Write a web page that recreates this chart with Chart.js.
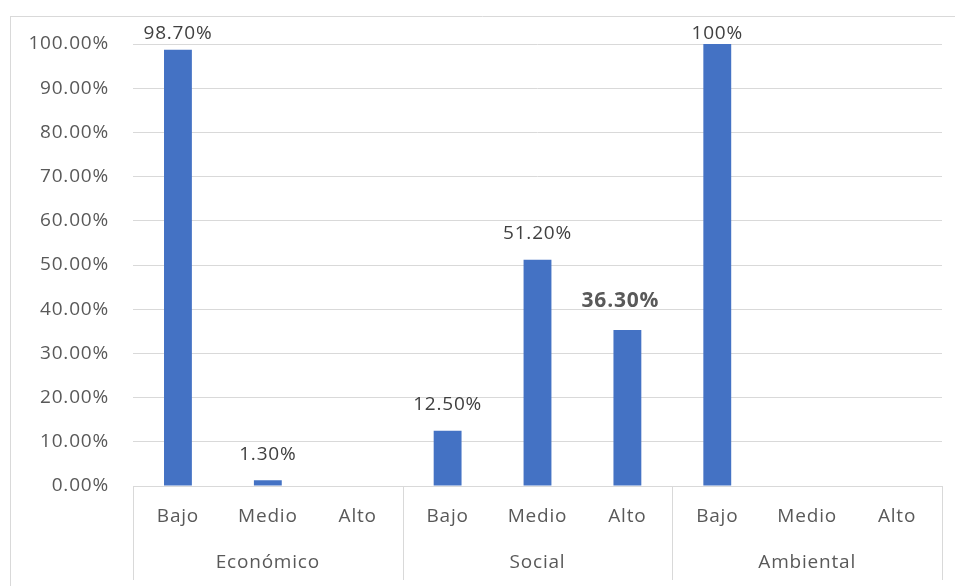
<!DOCTYPE html>
<html>
<head>
<meta charset="utf-8">
<script src="https://cdn.jsdelivr.net/npm/chart.js@4/dist/chart.umd.min.js"></script>
<style>
html,body{margin:0;padding:0;background:#fff;}
#wrap{width:955px;height:586px;position:relative;}
</style>
</head>
<body>
<div id="wrap"><canvas id="c" width="955" height="586"></canvas></div>
<script>
// ---- data ----
const categories = ['Bajo','Medio','Alto','Bajo','Medio','Alto','Bajo','Medio','Alto'];
const groups = ['Económico','Social','Ambiental'];
const values = [98.7, 1.3, null, 12.5, 51.2, 35.3, 100, null, null];
const valueLabels = ['98.70%','1.30%','','12.50%','51.20%','36.30%','100%','',''];
const yTickValues = [0,10,20,30,40,50,60,70,80,90,100];

const FONT = '"Open Sans", "Noto Sans", sans-serif';
const SPACING = '0.8px';

const spacingPlugin = {
  id: 'spacing',
  beforeLayout(chart){ chart.ctx.letterSpacing = SPACING; },
  beforeDraw(chart){ chart.ctx.letterSpacing = SPACING; }
};

const framePlugin = {
  id: 'frame',
  beforeDraw(chart){
    const ctx = chart.ctx;
    ctx.save();
    ctx.strokeStyle = '#d9d9d9';
    ctx.lineWidth = 1;
    ctx.beginPath();
    ctx.moveTo(10, 16.5); ctx.lineTo(955, 16.5);
    ctx.moveTo(10.5, 16); ctx.lineTo(10.5, 586);
    ctx.stroke();
    ctx.restore();
  }
};

const groupAxisPlugin = {
  id: 'groupAxis',
  afterDraw(chart){
    const ctx = chart.ctx, xs = chart.scales.x, area = chart.chartArea;
    const step = xs.getPixelForValue(1) - xs.getPixelForValue(0);
    ctx.save();
    ctx.letterSpacing = SPACING;
    ctx.strokeStyle = '#d9d9d9';
    ctx.lineWidth = 1;
    ctx.beginPath();
    for (let g = 0; g <= groups.length; g++) {
      const x = Math.round(xs.getPixelForValue(g*3) - step/2) + 0.5;
      ctx.moveTo(x, area.bottom); ctx.lineTo(x, 580);
    }
    ctx.stroke();
    ctx.fillStyle = '#595959';
    ctx.font = '19px ' + FONT;
    ctx.textAlign = 'center';
    ctx.textBaseline = 'middle';
    groups.forEach((g, i) => {
      const cx = (xs.getPixelForValue(i*3) + xs.getPixelForValue(i*3+2)) / 2;
      ctx.fillText(g, cx, 563);
    });
    ctx.restore();
  }
};

const labelPlugin = {
  id: 'valueLabels',
  afterDatasetsDraw(chart, args, opts){
    const ctx = chart.ctx, meta = chart.getDatasetMeta(0), area = chart.chartArea;
    ctx.save();
    ctx.letterSpacing = SPACING;
    ctx.textAlign = 'center';
    ctx.textBaseline = 'middle';
    meta.data.forEach((bar, i) => {
      const txt = valueLabels[i];
      if (!txt) return;
      const st = (opts.special && opts.special[i]) || {};
      ctx.font = (st.bold ? 'bold ' : '') + (st.size || 19) + 'px ' + FONT;
      ctx.fillStyle = st.color || '#404040';
      const y = Math.max(bar.y - (st.gap || 26), area.top - 10);
      ctx.fillText(txt, bar.x + (st.dx || 0), y);
    });
    ctx.restore();
  }
};

new Chart(document.getElementById('c'), {
  type: 'bar',
  data: {
    labels: categories,
    datasets: [{
      data: values,
      backgroundColor: '#4472C4',
      borderWidth: 0,
      barPercentage: 0.31,
      categoryPercentage: 1.0
    }]
  },
  options: {
    responsive: false,
    animation: false,
    devicePixelRatio: 1,
    layout: { padding: { left: 10, right: 13, top: 44, bottom: 0 } },
    plugins: {
      legend: { display: false },
      tooltip: { enabled: false },
      valueLabels: { special: { 5: { bold: true, size: 21, dx: -7, gap: 29, color: '#595959' } } }
    },
    scales: {
      x: {
        grid: { display: false, drawTicks: false },
        border: { display: true, color: '#d9d9d9', width: 1 },
        ticks: { color: '#595959', font: { family: FONT, size: 19 }, padding: 19, maxRotation: 0, autoSkip: false },
        afterFit(scale){ scale.height = 100; }
      },
      y: {
        min: 0, max: 100,
        afterBuildTicks(scale){ scale.ticks = yTickValues.map(v => ({ value: v })); },
        grid: { color: '#d9d9d9', drawTicks: false, lineWidth: 1 },
        border: { display: false },
        ticks: {
          color: '#595959',
          font: { family: FONT, size: 19 },
          padding: 24,
          callback: v => v.toFixed(2) + '%'
        },
        afterFit(scale){ scale.width = 123; }
      }
    }
  },
  plugins: [spacingPlugin, framePlugin, groupAxisPlugin, labelPlugin]
});
</script>
</body>
</html>
